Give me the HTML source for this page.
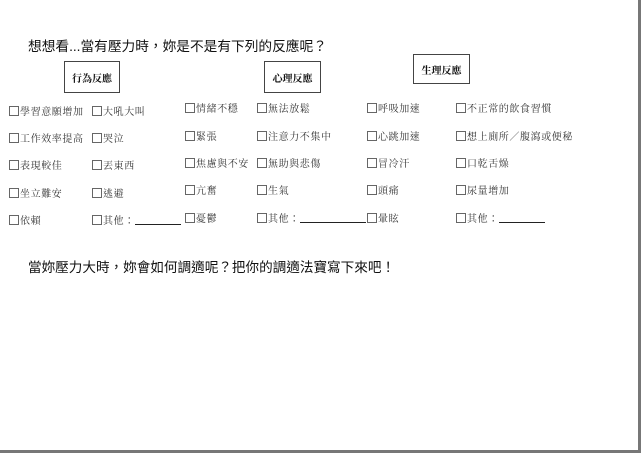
<!DOCTYPE html>
<html><head><meta charset="utf-8">
<style>
html,body{margin:0;padding:0;background:#fff;}
#pg{position:relative;width:644px;height:456px;overflow:hidden;background:#fff;}
.edge-r{position:absolute;left:638px;top:0;width:3px;height:452px;background:#777;}
.edge-b{position:absolute;left:0;top:450px;width:641px;height:3px;background:#777;}
.h{position:absolute;font-family:"Liberation Sans","Noto Sans CJK TC",sans-serif;color:#111;white-space:nowrap;}
.box{position:absolute;border:1px solid #444;font-family:"Noto Serif CJK TC","Noto Serif CJK SC",serif;font-weight:bold;font-size:10px;display:flex;align-items:center;justify-content:center;color:#111;}
.it{position:absolute;font-family:"Noto Serif CJK TC","Noto Serif CJK SC",serif;font-size:10px;letter-spacing:0.6px;line-height:12px;color:#333;white-space:nowrap;}
.it::before{content:"";display:inline-block;width:8px;height:8px;border:1px solid #666;vertical-align:-1px;margin-right:1px;}
.ul{display:inline-block;border-bottom:1px solid #222;height:10px;vertical-align:-1px;}
</style></head><body>
<div id="pg">
<div class="edge-r"></div><div class="edge-b"></div>
<div class="h" style="left:28px;top:35px;font-size:13.7px;">想想看...當有壓力時，妳是不是有下列的反應呢？</div>
<div class="box" style="left:64px;top:61px;width:54px;height:30px;">行為反應</div>
<div class="box" style="left:264px;top:61px;width:55px;height:30px;">心理反應</div>
<div class="box" style="left:413px;top:54px;width:55px;height:28px;">生理反應</div>

<div class="it" style="left:9px;top:105px;">學習意願增加</div>
<div class="it" style="left:9px;top:132px;">工作效率提高</div>
<div class="it" style="left:9px;top:159px;">表現較佳</div>
<div class="it" style="left:9px;top:187px;">坐立難安</div>
<div class="it" style="left:9px;top:214px;">依賴</div>

<div class="it" style="left:92px;top:105px;">大吼大叫</div>
<div class="it" style="left:92px;top:132px;">哭泣</div>
<div class="it" style="left:92px;top:159px;">丟東西</div>
<div class="it" style="left:92px;top:187px;">逃避</div>
<div class="it" style="left:92px;top:214px;">其他：<span class="ul" style="width:46px"></span></div>

<div class="it" style="left:185px;top:102px;">情緒不穩</div>
<div class="it" style="left:185px;top:130px;">緊張</div>
<div class="it" style="left:185px;top:157px;">焦慮與不安</div>
<div class="it" style="left:185px;top:184px;">亢奮</div>
<div class="it" style="left:185px;top:212px;">憂鬱</div>

<div class="it" style="left:257px;top:102px;">無法放鬆</div>
<div class="it" style="left:257px;top:130px;">注意力不集中</div>
<div class="it" style="left:257px;top:157px;">無助與悲傷</div>
<div class="it" style="left:257px;top:184px;">生氣</div>
<div class="it" style="left:257px;top:212px;">其他：<span class="ul" style="width:66px"></span></div>

<div class="it" style="left:367px;top:102px;">呼吸加速</div>
<div class="it" style="left:367px;top:130px;">心跳加速</div>
<div class="it" style="left:367px;top:157px;">冒冷汗</div>
<div class="it" style="left:367px;top:184px;">頭痛</div>
<div class="it" style="left:367px;top:212px;">暈眩</div>

<div class="it" style="left:456px;top:102px;">不正常的飲食習慣</div>
<div class="it" style="left:456px;top:130px;">想上廁所／腹瀉或便秘</div>
<div class="it" style="left:456px;top:157px;">口乾舌燥</div>
<div class="it" style="left:456px;top:184px;">尿量增加</div>
<div class="it" style="left:456px;top:212px;">其他：<span class="ul" style="width:46px"></span></div>

<div class="h" style="left:28px;top:256px;font-size:13.6px;">當妳壓力大時，妳會如何調適呢？把你的調適法寶寫下來吧！</div>
</div>
</body></html>
